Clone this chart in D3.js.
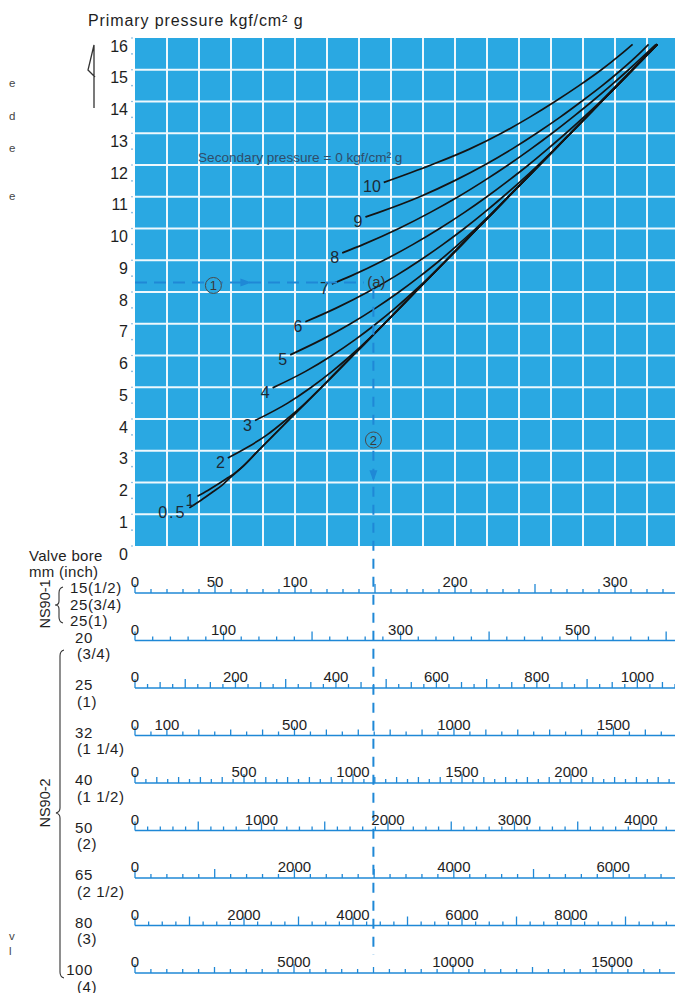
<!DOCTYPE html>
<html>
<head>
<meta charset="utf-8">
<script src="https://cdn.jsdelivr.net/npm/d3@7"></script>
<style>
  html, body { margin: 0; padding: 0; background: #ffffff; }
  svg { display: block; }
  text { font-family: "Liberation Sans", Arial, Helvetica, sans-serif; }
</style>
</head>
<body>
<svg id="chart" width="675" height="993"></svg>
<script>
// ---------- data ----------
// primary pressure axis (kgf/cm2 g)
const pressureTicks = [0,1,2,3,4,5,6,7,8,9,10,11,12,13,14,15,16];
// chart flow axis runs along the first bore scale (NS90-1, 15A)
const flowMax = 337.5;
const flowGridStep = 20;

// secondary-pressure curves: [flow on first scale, primary pressure]
const curveNames = ["0.5", "1", "2", "3", "4", "5", "6", "7", "8", "9", "10"];
const curve05 = [[34,1.2],[41.5,1.45],[48.5,1.7],[54.5,1.92],[59.5,2.15]];
const curve1  = [[39,1.57],[45.5,1.75],[52,1.95],[58,2.15],[63,2.32]];
const curve2  = [[58,2.77],[70,3.1],[82.5,3.5],[95,4.0],[106.5,4.5],[116.6,5.0]];
const curve3  = [[75,3.95],[95.4,4.5],[110.2,5.0],[123.2,5.5],[134.9,6.0],[145.7,6.5],[155.8,7.0]];
const curve4  = [[86,4.98],[106.6,5.5],[123.1,6.0],[137.6,6.5],[150.7,7.0],[162.8,7.5],[174,8.0],[184.6,8.5],[194.6,9.0]];
const curve5  = [[97,6.02],[116.7,6.5],[134.7,7.0],[150.6,7.5],[165,8.0],[178.2,8.5],[190.6,9.0],[202.1,9.5],[213,10.0],[223.5,10.5],[233.4,11.0]];
const curve6  = [[106.5,7.06],[126,7.5],[145.5,8.0],[162.7,8.5],[178.2,9.0],[192.5,9.5],[205.8,10.0],[218.2,10.5],[230,11.0],[241.3,11.5],[252,12.0],[262.3,12.5],[272.2,13.0]];
const curve7  = [[123,8.25],[134.7,8.5],[155.5,9.0],[173.8,9.5],[190.4,10.0],[205.7,10.5],[219.9,11.0],[233.2,11.5],[245.9,12.0],[257.8,12.5],[269.3,13.0],[280.3,13.5],[290.9,14.0],[301.1,14.5],[311,15.0]];
const curve8  = [[129.5,9.23],[142.8,9.5],[164.9,10.0],[184.3,10.5],[202,11.0],[218.1,11.5],[233.2,12.0],[247.3,12.5],[260.7,13.0],[273.4,13.5],[285.6,14.0],[297.3,14.5],[308.5,15.0],[325.6,15.8]];
const curve9  = [[144,10.36],[152,10.5],[178,11.0],[199.5,11.5],[218.5,12.0],[235.5,12.5],[251,13.0],[265.5,13.5],[279,14.0],[292,14.5],[304,15.0],[315,15.5],[321,15.8]];
const curve10 = [[155.5,11.45],[185,12.0],[209,12.5],[229,13.0],[246.5,13.5],[262.5,14.0],[277.5,14.5],[291.5,15.0],[304,15.5],[311,15.8]];
// common line the low-secondary-pressure curves run into
const criticalLine = [[67.3,2.5],[77,3.0],[96.7,4.0],[116.6,5.0],[136.2,6.0],[155.8,7.0],[175.2,8.0],[194.6,9.0],[214,10.0],[233.4,11.0],[252.8,12.0],[272.2,13.0],[291.6,14.0],[311,15.0],[326.5,15.8]];
const curveData = [curve05, curve1, curve2, curve3, curve4, curve5, curve6, curve7, curve8, curve9, curve10];

// worked example: primary pressure -> flow
const exampleFlow = 149;
const examplePressure = 8.3;

// valve bore scales (full-scale value at the right edge, labels, tick steps)
const boreNames = [
  ["15(1/2)", "25(3/4)", "25(1)"],
  ["20", "(3/4)"], ["25", "(1)"], ["32", "(1 1/4)"], ["40", "(1 1/2)"],
  ["50", "(2)"], ["65", "(2 1/2)"], ["80", "(3)"], ["100", "(4)"]
];
const boreScaleMax = [337.5, 610, 1075, 1693, 2477, 4269, 6775, 9908, 16981];
const boreTickLabels = [
  [0,50,100,200,300], [0,100,300,500], [0,200,400,600,800,1000],
  [0,100,500,1000,1500], [0,500,1000,1500,2000], [0,1000,2000,3000,4000],
  [0,2000,4000,6000], [0,2000,4000,6000,8000], [0,5000,10000,15000]
];
const boreMinorStep = [10, 20, 25, 50, 50, 100, 200, 250, 500];
const boreMidStep   = [50, 100, 50, 100, 100, 500, 1000, 1000, 2500];
const boreMajorStep = [50, 100, 100, 500, 500, 500, 1000, 1000, 5000];

// ---------- drawing ----------
const svg = d3.select("#chart");
const BLUE = "#2aa8e2";
const LINEBLUE = "#1f88d6";
const INK = "#1e1e1e";

const x = d3.scaleLinear().domain([0, flowMax]).range([135, 675]);
const y = d3.scaleLinear().domain([0, 16]).range([546, 38]);

// title
svg.append("text").attr("x", 88).attr("y", 26)
  .attr("font-size", 16).attr("fill", INK).attr("letter-spacing", 0.9)
  .text("Primary pressure kgf/cm² g");

// hand-drawn up arrow beside the axis
svg.append("path").attr("d", "M94,108 L94,45 L88,70 L95,77")
  .attr("fill", "none").attr("stroke", "#333").attr("stroke-width", 1.3);

// plot background and grid
svg.append("rect")
  .attr("x", x(0)).attr("y", y(16))
  .attr("width", x(flowMax) - x(0)).attr("height", y(0) - y(16))
  .attr("fill", BLUE);

const grid = svg.append("g").attr("stroke", "#eef8fd").attr("stroke-width", 2);
grid.selectAll("line.v").data(d3.range(flowGridStep, flowMax, flowGridStep)).join("line")
  .attr("class", "v")
  .attr("x1", d => x(d)).attr("x2", d => x(d))
  .attr("y1", y(16)).attr("y2", y(0));
grid.selectAll("line.h").data(pressureTicks.filter(v => v > 0 && v < 16)).join("line")
  .attr("class", "h")
  .attr("x1", x(0)).attr("x2", x(flowMax))
  .attr("y1", d => y(d)).attr("y2", d => y(d));

// pressure axis labels
const yAxis = svg.append("g").attr("transform", "translate(133,8)")
  .call(d3.axisLeft(y).tickValues(pressureTicks).tickSize(0).tickPadding(5));
yAxis.select(".domain").remove();
yAxis.selectAll("text").attr("font-size", 16).attr("fill", INK)
  .attr("font-family", "'Liberation Sans', Arial, sans-serif");

// small dots at each pressure step
svg.append("g").selectAll("circle").data(d3.range(0, 16.01, 0.5)).join("circle")
  .attr("cx", 132).attr("cy", d => y(d)).attr("r", 0.8).attr("fill", "#6aa9d6");

svg.append("text").attr("x", 198).attr("y", 162)
  .attr("font-size", 13.6).attr("fill", "#2f4d6a")
  .text("Secondary pressure = 0 kgf/cm² g");

// curves
const line = d3.line().x(d => x(d[0])).y(d => y(d[1])).curve(d3.curveMonotoneX);
const fullCurves = curveData.map(pts => {
  const last = pts[pts.length - 1][1];
  return pts.concat(criticalLine.filter(p => p[1] > last + 0.05));
});
svg.append("g").selectAll("path").data(fullCurves).join("path")
  .attr("d", line).attr("fill", "none")
  .attr("stroke", "#141414").attr("stroke-width", 1.7);

svg.append("g").selectAll("text").data(curveData).join("text")
  .attr("x", d => x(d[0][0]) - 3)
  .attr("y", d => y(d[0][1]) + 10)
  .attr("text-anchor", "end")
  .attr("font-size", 16).attr("fill", "#1c2a36")
  .attr("letter-spacing", (d, i) => curveNames[i] === "0.5" ? 2 : 0)
  .text((d, i) => curveNames[i]);

// worked example (dashed guides)
const exY = y(examplePressure);
const exX = x(exampleFlow);
svg.append("line").attr("x1", x(0)).attr("x2", x(exampleFlow - 6))
  .attr("y1", exY).attr("y2", exY)
  .attr("stroke", LINEBLUE).attr("stroke-width", 2).attr("stroke-dasharray", "12,7");
svg.append("line").attr("x1", exX).attr("x2", exX)
  .attr("y1", y(examplePressure - 0.2)).attr("y2", 955)
  .attr("stroke", LINEBLUE).attr("stroke-width", 2).attr("stroke-dasharray", "10,8");
svg.append("text").attr("x", exX + 3).attr("y", exY + 5)
  .attr("text-anchor", "middle").attr("font-size", 15).attr("fill", "#333")
  .text("(a)");

// arrow heads
const ax = x(69);
svg.append("path").attr("d", `M${ax - 5},${exY - 4} L${ax + 6},${exY} L${ax - 5},${exY + 4} Z`).attr("fill", LINEBLUE);
const ay = y(2.2);
svg.append("path").attr("d", `M${exX - 4},${ay - 6} L${exX + 4},${ay - 6} L${exX},${ay + 5} Z`).attr("fill", LINEBLUE);

// circled step numbers
function stepMark(cx, cy, label) {
  svg.append("circle").attr("cx", cx).attr("cy", cy).attr("r", 8)
    .attr("fill", BLUE).attr("stroke", "#4a4a4a").attr("stroke-width", 1);
  svg.append("text").attr("x", cx).attr("y", cy + 5).attr("text-anchor", "middle")
    .attr("font-size", 13).attr("fill", "#3a3a3a").text(label);
}
stepMark(x(49), exY + 3, "1");
stepMark(exX, y(3.34), "2");

// ---------- valve bore scales ----------
const row0 = 593, rowStep = 47.5;
boreScaleMax.forEach((mx, i) => {
  const ry = row0 + i * rowStep;
  const s = d3.scaleLinear().domain([0, mx]).range([135, 675]);
  const g = svg.append("g");
  g.append("line").attr("x1", s(0)).attr("x2", s(mx)).attr("y1", ry).attr("y2", ry)
    .attr("stroke", LINEBLUE).attr("stroke-width", 1.6);
  const ticks = d3.range(0, mx + 1e-6, boreMinorStep[i]);
  const isMult = (v, st) => Math.abs(v / st - Math.round(v / st)) < 1e-6;
  g.selectAll("line.t").data(ticks).join("line").attr("class", "t")
    .attr("x1", d => s(d)).attr("x2", d => s(d))
    .attr("y1", ry)
    .attr("y2", d => ry - (isMult(d, boreMajorStep[i]) ? 9 : isMult(d, boreMidStep[i]) ? 6 : 4))
    .attr("stroke", LINEBLUE).attr("stroke-width", 1.3);
  g.selectAll("text").data(boreTickLabels[i]).join("text")
    .attr("x", d => s(d)).attr("y", ry - 6)
    .attr("text-anchor", "middle").attr("font-size", 15).attr("fill", INK)
    .text(d => d);

  // bore label at the left
  const names = boreNames[i];
  if (i === 0) {
    names.forEach((n, k) => {
      svg.append("text").attr("x", 70).attr("y", ry + k * 16.5)
        .attr("font-size", 15).attr("letter-spacing", 0.6).attr("fill", INK).text(n);
    });
  } else {
    svg.append("text").attr("x", 93).attr("y", ry + 2).attr("text-anchor", "end")
      .attr("font-size", 15).attr("letter-spacing", 0.6).attr("fill", INK).text(names[0]);
    svg.append("text").attr("x", 77).attr("y", ry + 18.5)
      .attr("font-size", 15).attr("letter-spacing", 0.6).attr("fill", INK).text(names[1]);
  }
});

svg.append("text").attr("x", 29).attr("y", 561).attr("font-size", 15)
  .attr("letter-spacing", 0.3).attr("fill", INK).text("Valve bore");
svg.append("text").attr("x", 29).attr("y", 577).attr("font-size", 15)
  .attr("letter-spacing", 0.3).attr("fill", INK).text("mm (inch)");

// series groups
svg.append("text").attr("transform", "translate(50,604) rotate(-90)")
  .attr("text-anchor", "middle").attr("font-size", 14.5).attr("fill", INK).text("NS90-1");
svg.append("text").attr("transform", "translate(50,803) rotate(-90)")
  .attr("text-anchor", "middle").attr("font-size", 14.5).attr("fill", INK).text("NS90-2");

const brace = svg.append("g").attr("fill", "none").attr("stroke", "#333").attr("stroke-width", 1.1);
brace.append("path").attr("d", "M63,587 Q59,588 59,593 L59,601 Q59,605 55,605 Q59,605 59,609 L59,617 Q59,622 63,623");
brace.append("path").attr("d", "M64,650 Q60,651 60,656 L60,808 Q60,812 56,813 Q60,814 60,818 L60,972 Q60,977 64,978");

// stray letters from the neighbouring column
const stray = [["e", 83], ["d", 116], ["e", 148], ["e", 196], ["v", 936], ["l", 951]];
svg.append("g").selectAll("text").data(stray).join("text")
  .attr("x", 9).attr("y", d => d[1] + 4).attr("font-size", 11.5).attr("fill", "#444")
  .text(d => d[0]);
</script>
</body>
</html>
